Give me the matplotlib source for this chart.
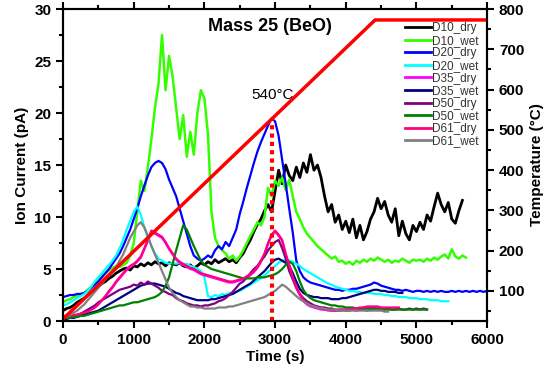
import numpy as np
import matplotlib
matplotlib.use("Agg")
import matplotlib.pyplot as plt
from matplotlib.ticker import MultipleLocator

plt.rcParams['font.family'] = ['Liberation Sans', 'DejaVu Sans']

# ---- data (ion current in pA, sampled every 50 s) ----
step = 50

d10_dry = [1.0,1.2,1.3,1.5,1.8,2.0,2.2,2.5,2.8,3.0,3.3,
           3.6,3.8,4.1,4.3,4.6,4.8,5.0,5.1,4.9,5.3,
           5.2,5.5,5.3,5.6,5.4,5.7,5.5,5.6,5.3,5.6,
           5.5,5.4,5.6,5.3,5.2,5.4,5.1,5.3,5.6,5.4,
           5.7,5.5,5.9,5.6,5.8,6.0,5.7,5.9,5.6,6.1,
           6.5,7.2,7.8,8.6,9.3,9.8,10.6,11.2,10.5,12.5,
           14.5,13.2,15.0,14.0,13.5,14.8,13.8,15.2,14.3,16.0,
           14.5,15.0,13.8,12.0,10.5,11.2,9.5,10.2,8.8,9.6,
           8.5,9.8,8.0,9.2,7.8,8.6,9.8,10.5,11.8,10.8,
           11.5,10.2,9.5,10.8,8.2,9.6,8.4,7.8,9.2,8.6,
           9.5,8.8,10.2,9.6,11.0,12.3,11.2,10.5,11.4,9.8,
           9.4,10.6,11.6]

d10_wet = [1.8,2.0,2.1,2.3,2.4,2.6,2.7,3.0,3.3,3.6,4.0,
           4.3,4.6,4.9,5.1,5.3,5.2,5.4,5.6,6.3,7.5,
           10.5,13.5,12.5,14.8,17.5,20.5,22.8,27.5,22.2,25.5,
           23.5,20.5,17.5,19.8,15.8,18.2,16.0,20.0,22.2,21.4,
           18.0,10.5,8.0,7.2,6.8,6.5,6.0,6.3,5.8,6.2,
           6.8,7.5,8.2,8.8,9.5,9.2,10.0,12.8,12.0,13.5,
           13.0,13.8,12.6,13.6,12.0,10.5,9.8,9.0,8.4,8.0,
           7.6,7.2,6.9,6.6,6.3,6.0,6.2,5.7,5.8,5.5,
           5.7,5.4,5.8,5.6,5.9,5.7,6.0,5.8,6.1,5.9,
           5.7,5.9,5.6,5.8,5.7,6.0,5.8,5.6,5.9,5.8,
           5.9,5.7,6.0,5.8,6.1,5.9,6.2,6.4,6.0,6.9,
           6.2,6.0,6.3,6.1]

d20_dry = [2.3,2.4,2.5,2.5,2.6,2.6,2.7,2.9,3.2,3.5,3.8,
           4.2,4.6,5.0,5.5,6.0,6.5,7.2,8.0,8.8,9.8,
           10.8,12.0,13.0,14.0,14.8,15.2,15.4,15.2,14.6,13.6,
           12.8,12.0,10.8,9.6,8.4,7.2,6.3,6.0,5.8,6.0,
           6.3,6.1,6.8,7.2,6.9,7.6,7.2,8.0,8.8,10.3,
           11.5,12.8,14.0,15.2,16.3,17.2,18.0,18.8,19.5,19.2,
           17.8,15.5,13.2,10.8,8.5,5.8,4.8,4.2,3.9,3.7,
           3.6,3.5,3.4,3.3,3.2,3.1,3.0,3.0,2.9,3.0,
           3.0,3.1,3.1,3.2,3.3,3.4,3.5,3.7,3.6,3.4,
           3.3,3.2,3.1,3.0,3.0,2.9,3.0,2.9,2.8,2.9,
           2.9,2.8,2.9,2.8,2.9,2.8,2.9,2.8,2.8,2.9,
           2.8,2.9,2.8,2.9,2.8,2.9,2.8,2.9,2.8,2.9]

d20_wet = [1.5,1.6,1.8,2.0,2.2,2.4,2.6,2.9,3.3,3.8,4.2,
           4.6,5.0,5.4,5.8,6.3,7.0,7.8,8.8,9.6,10.5,
           11.0,10.2,9.0,8.0,7.2,6.5,6.0,5.8,5.6,5.5,
           5.6,5.5,5.6,5.4,5.5,5.3,5.2,5.0,4.8,4.2,
           2.4,2.3,2.5,2.4,2.6,2.5,2.7,2.6,2.8,2.9,
           3.1,3.3,3.5,3.7,3.9,4.1,4.4,4.7,5.0,5.3,
           5.6,5.8,5.9,5.8,5.7,5.5,5.3,5.0,4.8,4.6,
           4.4,4.2,4.0,3.8,3.6,3.5,3.3,3.2,3.1,3.0,
           2.9,2.9,2.8,2.8,2.7,2.7,2.7,2.6,2.6,2.6,
           2.5,2.5,2.4,2.4,2.3,2.3,2.3,2.2,2.2,2.2,
           2.1,2.1,2.1,2.0,2.0,2.0,1.9,1.9,1.9]

d35_dry = [0.4,0.4,0.5,0.5,0.6,0.7,0.8,0.9,1.1,1.3,1.6,
           2.0,2.4,2.8,3.2,3.7,4.1,4.5,4.9,5.2,5.4,
           5.7,6.1,6.9,7.7,8.5,8.4,8.2,8.0,7.5,6.9,
           6.4,5.9,5.6,5.4,5.2,5.0,4.9,4.7,4.5,4.4,
           4.3,4.2,4.1,4.0,3.9,3.8,3.7,3.7,3.8,3.9,
           4.0,4.2,4.4,4.7,5.1,5.7,6.4,7.4,8.2,8.6,
           8.2,7.7,6.4,5.3,4.1,3.2,2.5,1.9,1.6,1.4,
           1.3,1.2,1.1,1.1,1.0,1.0,1.0,1.0,1.0,1.1,
           1.1,1.1,1.2,1.2,1.3,1.3,1.3,1.3,1.3,1.2]

d35_wet = [0.2,0.2,0.3,0.3,0.4,0.5,0.6,0.7,0.8,0.9,1.0,
           1.2,1.4,1.6,1.8,2.0,2.2,2.4,2.6,2.8,3.0,
           3.2,3.4,3.5,3.6,3.6,3.6,3.5,3.4,3.3,3.1,
           2.9,2.7,2.6,2.4,2.3,2.2,2.1,2.0,2.0,2.0,
           2.0,2.1,2.1,2.2,2.3,2.4,2.5,2.6,2.8,3.0,
           3.2,3.4,3.6,3.9,4.2,4.5,4.8,5.2,5.6,5.9,
           6.0,5.8,5.6,5.3,4.6,3.8,3.1,2.7,2.5,2.4,
           2.3,2.3,2.2,2.2,2.2,2.1,2.1,2.1,2.2,2.2,
           2.3,2.4,2.5,2.6,2.7,2.8,2.9,3.0,3.0,2.9,
           2.9,2.8,2.8,2.8,2.7,2.7]

d50_dry = [0.3,0.3,0.4,0.5,0.6,0.7,0.9,1.1,1.3,1.5,1.8,
           2.0,2.2,2.4,2.6,2.8,3.0,3.1,3.2,3.3,3.5,
           3.4,3.7,3.5,3.8,3.6,3.4,3.2,2.9,2.8,2.6,
           2.5,2.2,2.0,1.9,1.7,1.6,1.5,1.5,1.4,1.5,
           1.5,1.6,1.7,1.9,2.0,2.2,2.5,2.8,3.2,3.6,
           3.8,4.2,4.6,5.0,5.3,5.8,6.2,6.8,7.2,7.6,
           7.8,7.0,6.0,4.8,4.0,3.2,2.6,2.2,1.9,1.7,
           1.5,1.4,1.3,1.3,1.2,1.2,1.1,1.1,1.1,1.0,
           1.0,1.1,1.0,1.1,1.1,1.0,1.1,1.2,1.1,1.1,
           1.1,1.2,1.1,1.1,1.2,1.1,1.1,1.2,1.1,1.2,
           1.1,1.2,1.1]

d50_wet = [0.3,0.3,0.3,0.4,0.4,0.5,0.5,0.6,0.7,0.8,0.9,
           1.0,1.1,1.2,1.3,1.4,1.5,1.5,1.6,1.7,1.8,
           1.8,1.9,2.0,2.1,2.2,2.3,2.5,2.8,3.4,4.2,
           5.5,6.8,8.0,9.2,8.8,8.0,7.2,6.5,5.8,5.4,
           5.2,5.0,4.9,4.8,4.7,4.6,4.5,4.4,4.3,4.2,
           4.1,4.1,4.1,4.1,4.2,4.2,4.2,4.3,4.4,4.5,
           4.7,5.0,5.4,5.7,5.5,4.8,3.8,3.0,2.5,2.2,
           2.0,1.9,1.8,1.7,1.6,1.5,1.5,1.4,1.4,1.3,
           1.3,1.3,1.2,1.2,1.2,1.2,1.2,1.2,1.1,1.1,
           1.1,1.1,1.1,1.1,1.1,1.1,1.1,1.1,1.1,1.1,
           1.1,1.1,1.1]

d61_dry = [0.5,0.5,0.5,0.6,0.6,0.7,0.8,0.9,1.1,1.3,1.6,
           2.0,2.4,2.9,3.3,3.8,4.2,4.6,5.0,5.3,5.5,
           5.8,6.2,7.0,7.8,8.7,8.5,8.3,8.1,7.6,7.0,
           6.5,6.0,5.7,5.5,5.3,5.1,5.0,4.8,4.6,4.5,
           4.4,4.3,4.2,4.1,4.0,3.9,3.8,3.8,3.9,4.0,
           4.1,4.3,4.5,4.8,5.2,5.8,6.5,7.5,8.3,8.7,
           8.3,7.8,6.5,5.4,4.2,3.3,2.6,2.0,1.7,1.5,
           1.4,1.3,1.2,1.1,1.1,1.0,1.0,1.0,1.1,1.1,
           1.1,1.2,1.2,1.3,1.3,1.4,1.4,1.4,1.4,1.3,
           1.3,1.3,1.3,1.3,1.3]

d61_wet = [0.3,0.4,0.6,0.8,1.0,1.3,1.6,2.0,2.4,2.8,3.2,
           3.6,4.0,4.4,4.8,5.2,5.8,6.4,7.2,8.0,8.6,
           9.2,9.5,9.0,8.2,7.2,6.4,5.6,4.8,4.0,3.2,
           2.7,2.3,2.0,1.8,1.6,1.4,1.4,1.3,1.3,1.2,
           1.2,1.2,1.2,1.3,1.3,1.3,1.4,1.4,1.5,1.6,
           1.7,1.8,1.9,2.0,2.1,2.2,2.3,2.5,2.7,2.9,
           3.2,3.5,3.3,3.0,2.7,2.4,2.1,1.9,1.7,1.5,
           1.4,1.3,1.2,1.2,1.1,1.1,1.1,1.0,1.0,1.0,
           1.0,1.0,1.0,1.0,1.0,1.0,1.0,1.0,1.0,1.0,
           0.9,0.9]

# temperature programme (s, degC)
temp_time = [0, 4415, 6000]
temp_vals = [30, 773, 773]
mark_time = 2957
mark_temp = 528

series = [("D10_dry", d10_dry, "#000000", 2.0),
          ("D10_wet", d10_wet, "#33ff00", 1.8),
          ("D20_dry", d20_dry, "#0000ff", 1.6),
          ("D20_wet", d20_wet, "#00ffff", 1.6),
          ("D35_dry", d35_dry, "#ff00ff", 1.6),
          ("D35_wet", d35_wet, "#000080", 1.6),
          ("D50_dry", d50_dry, "#800080", 1.6),
          ("D50_wet", d50_wet, "#008000", 1.6),
          ("D61_dry", d61_dry, "#ff0080", 1.6),
          ("D61_wet", d61_wet, "#808080", 1.6)]

fig = plt.figure(figsize=(5.58, 3.74), dpi=100)
ax = fig.add_axes([0.113, 0.1417, 0.76, 0.834])

for name, vals, col, lw in series:
    t = np.arange(len(vals)) * step
    ax.plot(t, vals, color=col, lw=lw, label=name)

ax.set_xlim(0, 6000)
ax.set_ylim(0, 30)
ax.xaxis.set_major_locator(MultipleLocator(1000))
ax.xaxis.set_minor_locator(MultipleLocator(500))
ax.yaxis.set_major_locator(MultipleLocator(5))
ax.yaxis.set_minor_locator(MultipleLocator(2.5))
ax.tick_params(which='both', direction='out', width=1.5, labelsize=11)
ax.tick_params(which='major', length=5)
ax.tick_params(which='minor', length=3)
ax.tick_params(axis='x', which='both', top=True, labeltop=False)
for lab in ax.get_xticklabels() + ax.get_yticklabels():
    lab.set_fontweight('bold')
for sp in ax.spines.values():
    sp.set_linewidth(1.5)
ax.set_xlabel("Time (s)", fontsize=11, fontweight='bold', labelpad=2)
ax.set_ylabel("Ion Current (pA)", fontsize=11, fontweight='bold', labelpad=4)

ax.text(2930, 28.3, "Mass 25 (BeO)", fontsize=13, fontweight='bold',
        ha='center', va='center')
ax.text(2970, 21.7, "540°C", fontsize=11, ha='center', va='center')

leg = ax.legend(loc='upper right', bbox_to_anchor=(0.979, 0.958), frameon=False,
                fontsize=8.5, handlelength=2.2, handletextpad=0.1,
                labelspacing=0.05, borderpad=0, borderaxespad=0)
for line in leg.get_lines():
    line.set_linewidth(2)
for txt in leg.get_texts():
    txt.set_color('#333333')

ax2 = ax.twinx()
ax2.plot(temp_time, temp_vals, color='#ff0000', lw=2.5)
ax2.plot([mark_time, mark_time], [25, mark_temp], color='#ff0000', lw=3,
         linestyle=(0, (1, 1)))
ax2.set_ylim(25, 800)
ax2.yaxis.set_major_locator(MultipleLocator(100))
ax2.yaxis.set_minor_locator(MultipleLocator(50))
ax2.set_yticks([100, 200, 300, 400, 500, 600, 700, 800])
ax2.tick_params(which='both', direction='out', width=1.5, labelsize=11)
ax2.tick_params(which='major', length=5)
ax2.tick_params(which='minor', length=3)
for lab in ax2.get_yticklabels():
    lab.set_fontweight('bold')
for sp in ax2.spines.values():
    sp.set_linewidth(1.5)
ax2.set_ylabel("Temperature (°C)", fontsize=11, fontweight='bold', labelpad=4)

fig.savefig("out.png", dpi=100)
